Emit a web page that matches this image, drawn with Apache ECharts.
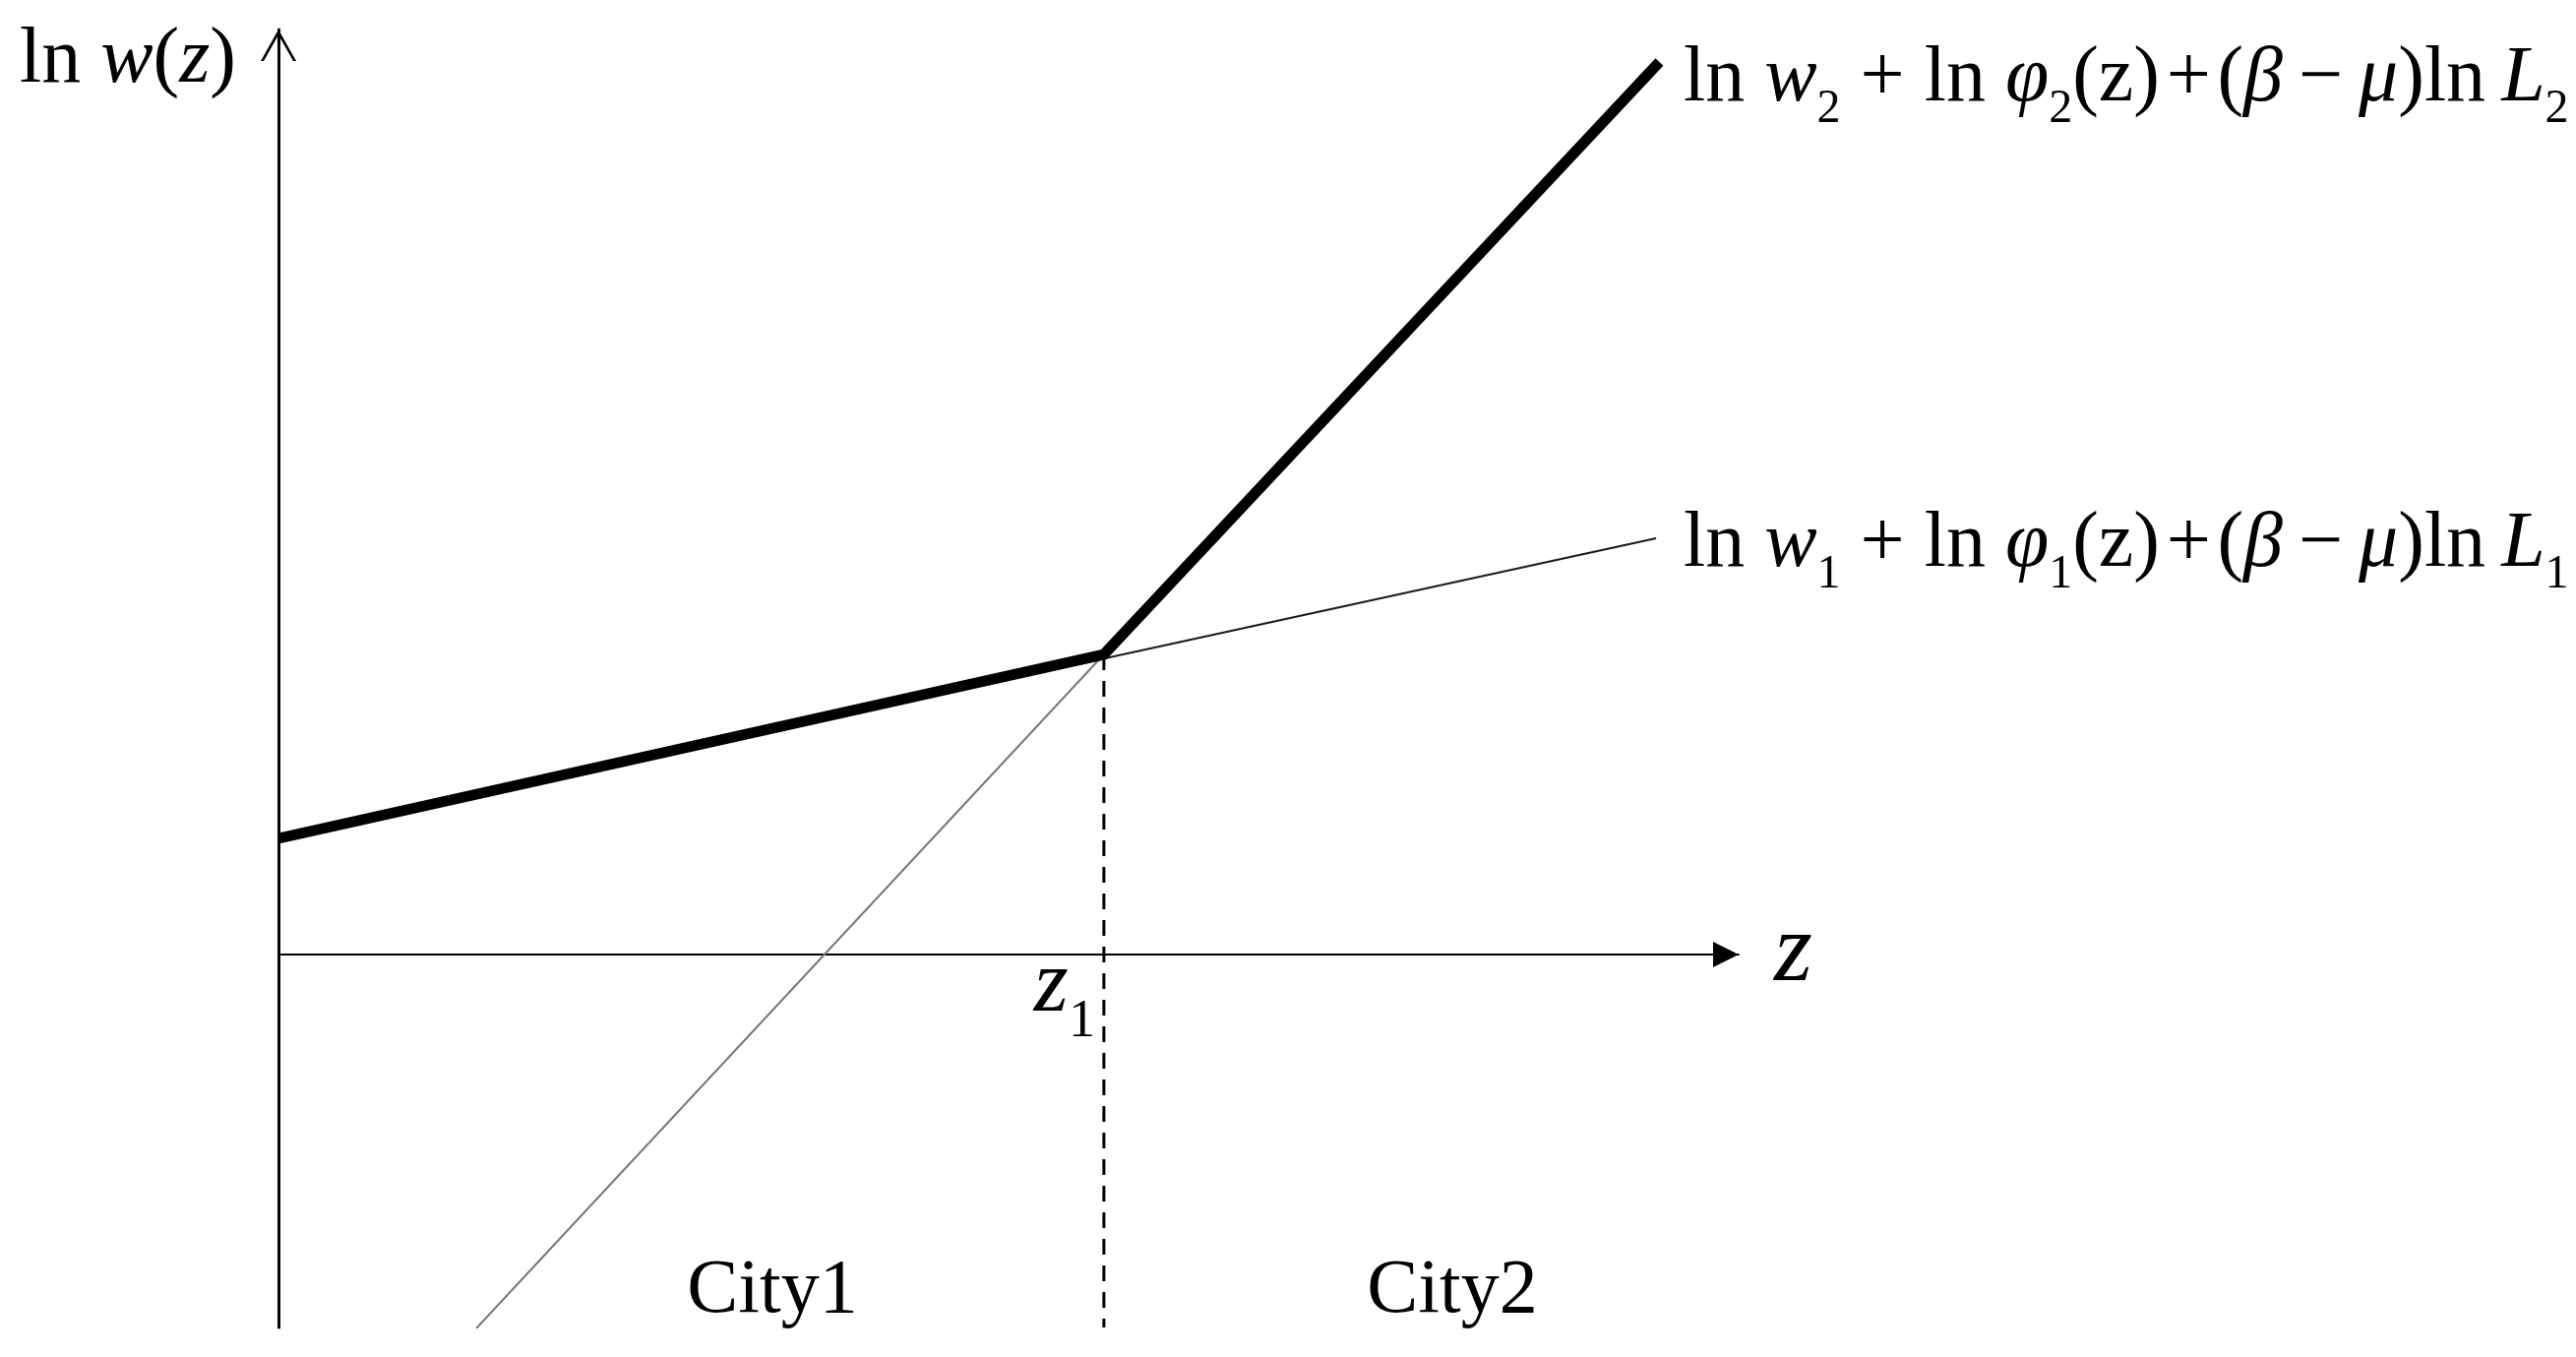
<!DOCTYPE html>
<html>
<head>
<meta charset="utf-8">
<script src="https://cdn.jsdelivr.net/npm/echarts@6/dist/echarts.min.js"></script>
<style>
  html, body { margin: 0; padding: 0; background: #fff; }
  #main { width: 2618px; height: 1379px; }
</style>
</head>
<body>
<div id="main"></div>
<script>
// z runs from 0 to the end of the arrow, z1 = 1; ln w(z) is in arbitrary units
var zRange = [0, 1.769];
var wRange = [-3.79, 9.40];
var z1 = 1;

// the two city wage schedules and the upper envelope
var city1Line = [[0, 1.18], [1.669, 4.23]];
var city2Line = [[0.2396, -3.80], [1, 3.05]];
var envelope = [[0, 1.18], [1, 3.05], [1.673, 9.07]];
var z1Cut = [[1, 3.05], [1, -3.79]];

var cityNames = ['City1', 'City2'];

var FONT = '"Liberation Serif", "Times New Roman", serif';
var THIN = '\u2009';
var HAIR = '\u200A';

var chartDom = document.getElementById('main');
var myChart = echarts.init(chartDom);
var option;

// math-ish rich text styles
var mathRich = {
  r: { fontFamily: FONT, fontSize: 80, lineHeight: 80, verticalAlign: 'top', color: '#000' },
  i: { fontFamily: FONT, fontSize: 80, lineHeight: 80, verticalAlign: 'top', fontStyle: 'italic', color: '#000' },
  s: { fontFamily: FONT, fontSize: 48, lineHeight: 48, verticalAlign: 'top', padding: [46, 0, 0, 0], color: '#000' }
};

function formula(k) {
  return '{r|ln }{i|w}{s|' + k + '}{r| + ln }{i|φ}{s|' + k + '}' +
    '{r|(z)' + HAIR + '+' + HAIR + '(}{i|β}{r|' + THIN + '−' + THIN + '}{i|μ}{r|)ln' + THIN + '}{i|L}{s|' + k + '}';
}

option = {
  backgroundColor: '#fff',
  animation: false,
  grid: {
    left: 283,
    right: 851,
    top: 30,
    bottom: 30,
    containLabel: false,
    outerBoundsMode: 'none'
  },
  xAxis: {
    type: 'value',
    min: zRange[0],
    max: zRange[1],
    interval: 1,
    splitLine: { show: false },
    axisTick: { show: false },
    axisLabel: { show: false },
    axisLine: {
      onZero: true,
      lineStyle: { color: '#000', width: 2 },
      symbol: ['none', 'triangle'],
      symbolSize: [26, 26],
      symbolOffset: [0, -13]
    },
    name: 'z',
    nameLocation: 'end',
    nameGap: 36,
    nameTextStyle: {
      fontFamily: FONT,
      fontSize: 100,
      fontStyle: 'italic',
      color: '#000',
      verticalAlign: 'middle',
      padding: [0, 0, 16, 0]
    }
  },
  yAxis: {
    type: 'value',
    min: wRange[0],
    max: wRange[1],
    splitLine: { show: false },
    axisTick: { show: false },
    axisLabel: { show: false },
    axisLine: {
      onZero: true,
      lineStyle: { color: '#000', width: 3 },
      symbol: ['none', 'path://M0,32 L18,0 L36,32 L33,32 L18,5.5 L3,32 Z'],
      symbolSize: [36, 32],
      symbolOffset: [0, -16]
    }
  },
  graphic: {
    elements: [
      {
        type: 'text',
        x: 20,
        y: 22,
        style: {
          text: '{r|ln }{i|w}{r|(}{i|z}{r|)}',
          rich: mathRich,
          align: 'left',
          verticalAlign: 'top'
        }
      },
      {
        type: 'text',
        x: 1711,
        y: 41,
        style: { text: formula(2), rich: mathRich, align: 'left', verticalAlign: 'top' }
      },
      {
        type: 'text',
        x: 1711,
        y: 514,
        style: { text: formula(1), rich: mathRich, align: 'left', verticalAlign: 'top' }
      },
      {
        type: 'text',
        x: 785,
        y: 1313,
        style: {
          text: cityNames[0],
          font: '78px ' + FONT,
          fill: '#000',
          align: 'center',
          verticalAlign: 'middle'
        }
      },
      {
        type: 'text',
        x: 1476,
        y: 1313,
        style: {
          text: cityNames[1],
          font: '78px ' + FONT,
          fill: '#000',
          align: 'center',
          verticalAlign: 'middle'
        }
      }
    ]
  },
  series: [
    {
      name: 'city1',
      type: 'line',
      data: city1Line,
      symbol: 'none',
      silent: true,
      lineStyle: { color: '#1a1a1a', width: 2 }
    },
    {
      name: 'city2',
      type: 'line',
      data: city2Line,
      symbol: 'none',
      silent: true,
      lineStyle: { color: '#777', width: 2 }
    },
    {
      name: 'envelope',
      type: 'line',
      data: envelope,
      symbol: 'none',
      silent: true,
      lineStyle: { color: '#000', width: 11, join: 'miter', cap: 'butt' }
    },
    {
      name: 'z1',
      type: 'line',
      data: z1Cut,
      symbol: 'none',
      silent: true,
      lineStyle: { color: '#000', width: 3, type: [16, 11] },
      // z1 label sits on the z axis, just left of the cut
      markPoint: {
        silent: true,
        symbol: 'circle',
        symbolSize: 0,
        data: [{ coord: [z1, 0] }],
        label: {
          show: true,
          position: [-9, -12],
          align: 'right',
          verticalAlign: 'top',
          formatter: '{z|z}{s|1}',
          rich: {
            z: { fontFamily: FONT, fontSize: 90, lineHeight: 90, fontStyle: 'italic', verticalAlign: 'top', color: '#000' },
            s: { fontFamily: FONT, fontSize: 54, lineHeight: 54, verticalAlign: 'top', padding: [54, 0, 0, 0], color: '#000' }
          }
        }
      }
    }
  ]
};

option && myChart.setOption(option);
</script>
</body>
</html>
